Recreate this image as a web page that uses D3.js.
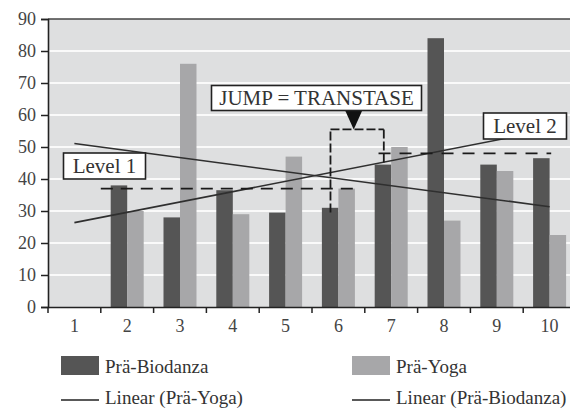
<!DOCTYPE html>
<html><head><meta charset="utf-8">
<script src="https://cdn.jsdelivr.net/npm/d3@7"></script>
<style>html,body{margin:0;padding:0;background:#fff;}svg{display:block;}</style>
</head><body>
<svg id="chart" width="570" height="408"></svg>
<script>
const categories = ["1","2","3","4","5","6","7","8","9","10"];
const biodanza = [null, 38, 28, 36.5, 29.5, 31, 44.5, 84, 44.5, 46.5];
const yoga     = [null, 30, 76, 29, 47, 37, 50, 27, 42.5, 22.5];
const yTicks = [0,10,20,30,40,50,60,70,80,90];
const seriesNames = ["Prä-Biodanza","Prä-Yoga"];
const trendNames = ["Linear (Prä-Yoga)","Linear (Prä-Biodanza)"];
const level1 = 37, level2 = 48;

(function(){
const svg = d3.select("#chart");
const serif = "'Liberation Serif','Times New Roman',serif";
const pL = 48, pR = 576, pT = 19, pB = 307;
const x = d3.scaleBand().domain(categories).range([pL, pR]).padding(0);
const x1 = d3.scaleBand().domain(seriesNames).range([0, x.bandwidth()]).paddingInner(0).paddingOuter(0.6);
const xc = d3.scaleLinear().domain([0.5, 10.5]).range([pL, pR]);
const y = d3.scaleLinear().domain([0, 90]).range([pB, pT]);
const colors = {"Prä-Biodanza":"#555555","Prä-Yoga":"#a7a7a9"};

svg.append("rect").attr("x", pL).attr("y", pT).attr("width", pR-pL).attr("height", pB-pT).attr("fill","#dedfe0");
svg.append("g").selectAll("line").data(yTicks.filter(t=>t>0 && t<90)).join("line")
  .attr("x1", pL).attr("x2", pR).attr("y1", d=>y(d)).attr("y2", d=>y(d))
  .attr("stroke","#fafafa").attr("stroke-width",2);
svg.append("line").attr("x1",pL).attr("x2",pR).attr("y1",y(90)).attr("y2",y(90)).attr("stroke","#444").attr("stroke-width",1.5);

const rows = categories.map((c,i)=>({c, vals:[{s:"Prä-Biodanza",v:biodanza[i]},{s:"Prä-Yoga",v:yoga[i]}]}));
svg.append("g").selectAll("g").data(rows).join("g")
  .attr("transform", d=>`translate(${x(d.c)},0)`)
  .selectAll("rect").data(d=>d.vals.filter(v=>v.v!=null)).join("rect")
  .attr("x", d=>x1(d.s)).attr("width", x1.bandwidth())
  .attr("y", d=>y(d.v)).attr("height", d=>y(0)-y(d.v))
  .attr("fill", d=>colors[d.s]);

function fit(arr){
  const pts = arr.map((v,i)=>[i+1,v]).filter(p=>p[1]!=null);
  const mx = d3.mean(pts,p=>p[0]), my = d3.mean(pts,p=>p[1]);
  const b = d3.sum(pts,p=>(p[0]-mx)*(p[1]-my))/d3.sum(pts,p=>(p[0]-mx)**2);
  return t => my + b*(t-mx);
}
const line = d3.line().x(d=>xc(d[0])).y(d=>y(d[1]));
[fit(yoga), fit(biodanza)].forEach(f=>{
  svg.append("path").datum([[1,f(1)],[10,f(10)]]).attr("d", line)
    .attr("fill","none").attr("stroke","#2f2f2f").attr("stroke-width",1.6);
});

const dashed = (x1v,y1v,x2v,y2v,dash)=>svg.append("line")
  .attr("x1",xc(x1v)).attr("y1",y(y1v)).attr("x2",xc(x2v)).attr("y2",y(y2v))
  .attr("stroke","#1a1a1a").attr("stroke-width",1.8).attr("stroke-dasharray",dash);
dashed(1.5, level1, 6.29, level1, "12,8");
dashed(6.76, level2, 10.03, level2, "12,9");
const bl = 5.85, br = 6.86, btop = 55.5;
dashed(bl, 29.5, bl, btop, "9,3");
dashed(bl, btop, br, btop, "9,3");
dashed(br, btop, br, 45, "9,3");
const ax = xc(6.29), ay = y(btop);
svg.append("path").attr("d", `M${ax-9},${ay-20}L${ax+9},${ay-20}L${ax},${ay}Z`).attr("fill","#111");

function box(x0,y0,w,h,label){
  svg.append("rect").attr("x",x0).attr("y",y0).attr("width",w).attr("height",h)
    .attr("fill","#fff").attr("stroke","#222").attr("stroke-width",1.6);
  svg.append("text").attr("x",x0+w/2).attr("y",y0+h/2+7).attr("text-anchor","middle")
    .attr("font-family",serif).attr("font-size",21).attr("fill","#333").text(label);
}
box(211.5, 85.5, 210, 25, "JUMP = TRANSTASE");
box(63.5, 153, 82, 26, "Level 1");
box(483.5, 113, 83, 26, "Level 2");

const yAxis = d3.axisLeft(y).tickValues(yTicks).tickSize(7).tickPadding(5);
const gy = svg.append("g").attr("transform",`translate(${pL},0)`).call(yAxis);
gy.select(".domain").attr("stroke","#222").attr("stroke-width",1.6);
gy.selectAll(".tick line").attr("stroke","#222").attr("stroke-width",1.5);
gy.selectAll("text").attr("font-family",serif).attr("font-size",18).attr("fill","#444");

const xAxis = d3.axisBottom(x).tickSize(0).tickPadding(12);
const gx = svg.append("g").attr("transform",`translate(0,${pB})`).call(xAxis);
gx.select(".domain").attr("stroke","#222").attr("stroke-width",1.6);
gx.selectAll("text").attr("font-family",serif).attr("font-size",18).attr("fill","#444");
svg.append("g").selectAll("line").data(categories).join("line")
  .attr("x1",d=>x(d)).attr("x2",d=>x(d)).attr("y1",pB).attr("y2",pB+6)
  .attr("stroke","#222").attr("stroke-width",1.5);

const lg = svg.append("g").attr("font-family",serif).attr("font-size",19).attr("fill","#333");
const legendX = [61, 352];
seriesNames.forEach((s,i)=>{
  lg.append("rect").attr("x",legendX[i]).attr("y",356).attr("width",38).attr("height",19).attr("fill",colors[s]);
  lg.append("text").attr("x",legendX[i]+44).attr("y",373).text(s);
});
trendNames.forEach((s,i)=>{
  lg.append("line").attr("x1",legendX[i]).attr("x2",legendX[i]+38).attr("y1",400).attr("y2",400).attr("stroke","#222").attr("stroke-width",1.6);
  lg.append("text").attr("x",legendX[i]+44).attr("y",404).text(s);
});
})();
</script>
</body></html>
